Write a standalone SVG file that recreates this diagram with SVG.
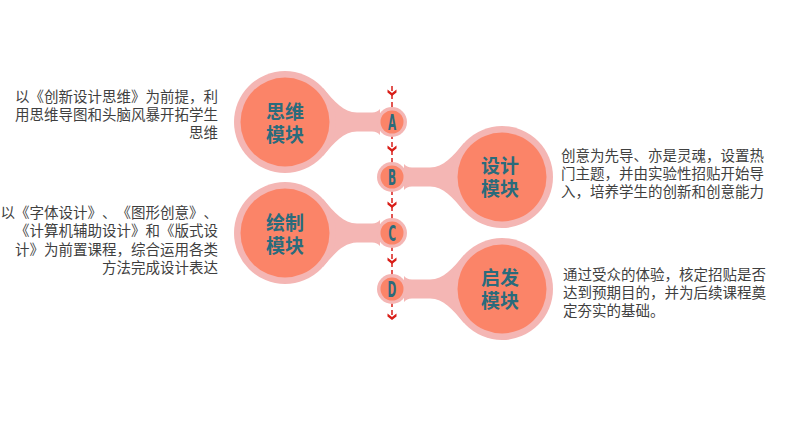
<svg xmlns="http://www.w3.org/2000/svg" width="785" height="430" viewBox="0 0 785 430">
<defs>
<style>
.outer{fill:#F4B6B4}
.inner{fill:#FB8468}
.title{font-family:"Noto Sans CJK SC","Noto Sans",sans-serif;font-weight:bold;font-size:19px;fill:#2A6B7C;text-anchor:middle}
.letter{font-family:"DejaVu Sans",sans-serif;font-weight:bold;font-size:22px;fill:#2A6B7C;text-anchor:middle}
.desc{font-family:"Noto Sans CJK SC","Noto Sans",sans-serif;font-size:14.5px;fill:#3F3F3F;text-spacing-trim:space-all;font-feature-settings:"palt" 0,"halt" 0}
.dash{stroke:#D91E18;stroke-width:1.5;stroke-dasharray:5 3;fill:none}
.chev{fill:#D91E18}
</style>
<path id="neckL" d="M38,-34 C50,-20 58,-10 72,-9.5 L87,-9.5 C91,-9.5 93,-11 95,-13 L95,13 C93,11 91,9.5 87,9.5 L72,9.5 C58,10 50,20 38,34 Z"/>
<path id="neckR" d="M38,-34 C50,-20 58,-10 72,-9.5 L90,-9.5 C94,-9.5 96,-11 98,-13 L98,13 C96,11 94,9.5 90,9.5 L72,9.5 C58,10 50,20 38,34 Z"/>
<polygon id="chevron" points="-4.5,-5.5 0,-2 4.5,-5.5 4.5,-2.5 0,1 -4.5,-2.5"/>
</defs>

<g id="connectors">
<line class="dash" x1="392" y1="86" x2="392" y2="319"/>
<use href="#chevron" class="chev" x="392" y="95"/>
<use href="#chevron" class="chev" x="392" y="151"/>
<use href="#chevron" class="chev" x="392" y="207"/>
<use href="#chevron" class="chev" x="392" y="263"/>
<use href="#chevron" class="chev" x="392" y="319"/>
</g>

<g id="module-a">
<use href="#neckL" class="outer" transform="translate(285,122)"/>
<circle class="outer" cx="285" cy="122" r="51"/>
<circle class="outer" cx="392" cy="122" r="15"/>
<circle class="inner" cx="285" cy="122" r="44.5"/>
<circle class="inner" cx="392" cy="122" r="11.5"/>
<text class="title"><tspan x="285" y="118.5">思维</tspan><tspan x="285" y="141.5">模块</tspan></text>
<text class="letter" transform="translate(392,130) scale(0.48,1)">A</text>
</g>

<g id="module-b">
<use href="#neckR" class="outer" transform="translate(502,177) scale(-1,1)"/>
<circle class="outer" cx="502" cy="177" r="51"/>
<circle class="outer" cx="392" cy="177" r="15"/>
<circle class="inner" cx="502" cy="177" r="44.5"/>
<circle class="inner" cx="392" cy="177" r="11.5"/>
<text class="title"><tspan x="500" y="173">设计</tspan><tspan x="500" y="196">模块</tspan></text>
<text class="letter" transform="translate(392,185) scale(0.48,1)">B</text>
</g>

<g id="module-c">
<use href="#neckL" class="outer" transform="translate(285,233)"/>
<circle class="outer" cx="285" cy="233" r="51"/>
<circle class="outer" cx="392" cy="233" r="15"/>
<circle class="inner" cx="285" cy="233" r="44.5"/>
<circle class="inner" cx="392" cy="233" r="11.5"/>
<text class="title"><tspan x="285" y="229.5">绘制</tspan><tspan x="285" y="252.5">模块</tspan></text>
<text class="letter" transform="translate(392,241) scale(0.48,1)">C</text>
</g>

<g id="module-d">
<use href="#neckR" class="outer" transform="translate(502,289) scale(-1,1)"/>
<circle class="outer" cx="502" cy="289" r="51"/>
<circle class="outer" cx="392" cy="289" r="15"/>
<circle class="inner" cx="502" cy="289" r="44.5"/>
<circle class="inner" cx="392" cy="289" r="11.5"/>
<text class="title"><tspan x="500" y="285">启发</tspan><tspan x="500" y="308">模块</tspan></text>
<text class="letter" transform="translate(392,297) scale(0.48,1)">D</text>
</g>

<g id="desc-a" class="desc" text-anchor="end">
<text x="218" y="101.5">以《创新设计思维》为前提，利</text>
<text x="218" y="119.8">用思维导图和头脑风暴开拓学生</text>
<text x="218" y="138">思维</text>
</g>

<g id="desc-b" class="desc">
<text x="561" y="160.5">创意为先导、亦是灵魂，设置热</text>
<text x="561" y="178.8">门主题，并由实验性招贴开始导</text>
<text x="561" y="197.2">入，培养学生的创新和创意能力</text>
</g>

<g id="desc-c" class="desc" text-anchor="end">
<text x="218" y="218">以《字体设计》、《图形创意》、</text>
<text x="218" y="236.3">《计算机辅助设计》和《版式设</text>
<text x="218" y="254.7">计》为前置课程，综合运用各类</text>
<text x="218" y="273">方法完成设计表达</text>
</g>

<g id="desc-d" class="desc">
<text x="563" y="279.7">通过受众的体验，核定招贴是否</text>
<text x="563" y="298">达到预期目的，并为后续课程奠</text>
<text x="563" y="316.3">定夯实的基础。</text>
</g>
</svg>
